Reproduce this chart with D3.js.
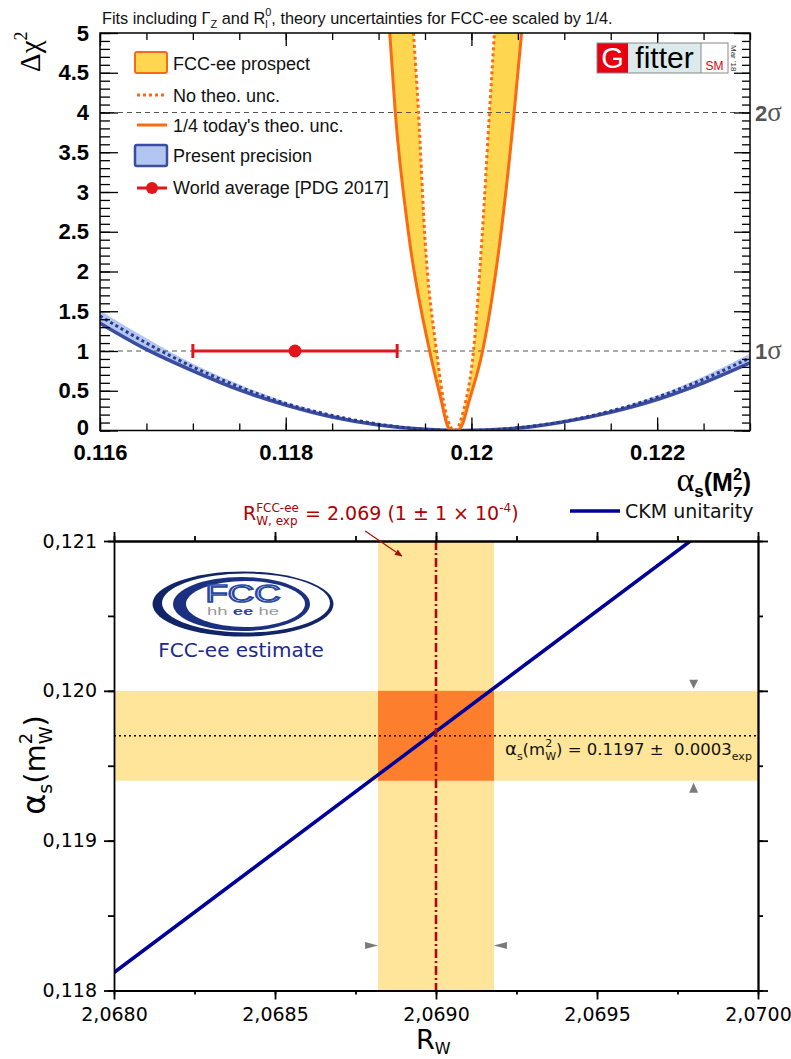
<!DOCTYPE html>
<html>
<head>
<meta charset="utf-8">
<script src="https://cdn.jsdelivr.net/npm/d3@7"></script>
<style>
  body { margin: 0; background: #fff; }
  svg { display: block; }
</style>
</head>
<body>
<svg id="fig" width="791" height="1059"></svg>
<script>
// ---------- Upper panel: Δχ² profiles in αs(MZ²) ----------
const presentAlpha  = [0.116, 0.1165, 0.117, 0.1175, 0.118, 0.1185, 0.119, 0.1195, 0.1199, 0.1205, 0.121, 0.1215, 0.122, 0.1225, 0.123];
const presentTheo   = [1.35, 1.02, 0.75, 0.51, 0.32, 0.17, 0.07, 0.015, 0, 0.03, 0.11, 0.23, 0.39, 0.60, 0.85];
const presentNoTheo = [1.44, 1.10, 0.80, 0.55, 0.34, 0.19, 0.08, 0.015, 0, 0.034, 0.115, 0.245, 0.42, 0.645, 0.915];
const presentUpper  = [1.51, 1.16, 0.84, 0.58, 0.36, 0.20, 0.08, 0.016, 0, 0.036, 0.12, 0.255, 0.44, 0.68, 0.965];

const fccTheoAlpha   = [0.11912, 0.11918, 0.11932, 0.11955, 0.11968, 0.11973, 0.11977, 0.11986, 0.11991, 0.11997, 0.12012, 0.12032, 0.12046, 0.12054];
const fccTheoChi2    = [5, 4, 2.5, 1, 0.35, 0.1, 0, 0, 0.1, 0.35, 1, 2.5, 4, 5];
const fccNoTheoAlpha = [0.119376, 0.11943, 0.119495, 0.119624, 0.11972, 0.119817, 0.119914, 0.120022, 0.120118, 0.120194, 0.120247];
const fccNoTheoChi2  = [5, 4, 2.5, 1, 0.25, 0, 0.25, 1, 2.5, 4, 5];

const worldAvg = 0.1181, worldErr = 0.0011, worldChi2 = 1;

const topXLabels = [0.116, 0.118, 0.12, 0.122];
const topYLabels = [0, 0.5, 1, 1.5, 2, 2.5, 3, 3.5, 4, 4.5, 5];
const sigmaLevels = [1, 4];
const sigmaNames  = ["1", "2"];

// ---------- Lower panel: αs(mW²) from R_W and CKM unitarity ----------
const rwTicks    = [2.0680, 2.0685, 2.0690, 2.0695, 2.0700];
const alphaTicks = [0.118, 0.119, 0.120, 0.121];
const rwExp = 2.069;
const rwBand = [2.06882, 2.06918];
const alphaW = 0.1197, alphaWErr = 0.0003;
const ckmR     = [2.0680, 2.06979];
const ckmAlpha = [0.11812, 0.12100];

const SANS  = "'Liberation Sans', Arial, Helvetica, sans-serif";
const SERIF = "'Liberation Serif', 'Times New Roman', serif";
const DV    = "'DejaVu Sans', Verdana, sans-serif";

const svg = d3.select("#fig");
svg.append("rect").attr("width", 791).attr("height", 1059).attr("fill", "#fff");
const defs = svg.append("defs");

// Lays out a run of text pieces (with sub/superscripts and stacked indices)
function rich(parent, parts, o) {
  const g = parent.append("g");
  let x = 0;
  const put = (p, xx) => g.append("text")
      .attr("x", xx).attr("y", p.dy || 0)
      .attr("font-family", p.family || o.family || SANS)
      .attr("font-size", p.size || o.size || 16)
      .attr("font-weight", p.weight || o.weight || "normal")
      .attr("fill", p.fill || o.fill || "#000")
      .text(p.t);
  for (const p of parts) {
    if (p.stack) {
      let w = 0;
      for (const s of p.stack) w = Math.max(w, put(s, x).node().getComputedTextLength());
      x += w;
    } else {
      x += put(p, x).node().getComputedTextLength();
    }
  }
  const shift = o.anchor === "end" ? -x : o.anchor === "middle" ? -x / 2 : 0;
  g.attr("transform", `translate(${o.x},${o.y}) rotate(${o.rotate || 0}) translate(${shift},0)`);
  return g;
}

// ================= UPPER PANEL =================
const up = svg.append("g");
const xT = d3.scaleLinear().domain([0.116, 0.123]).range([100, 750]);
const yT = d3.scaleLinear().domain([0, 5]).range([430.5, 33]);

defs.append("clipPath").attr("id", "clipTop").append("rect")
  .attr("x", xT(0.116)).attr("y", yT(5))
  .attr("width", xT(0.123) - xT(0.116)).attr("height", yT(0) - yT(5));

const plotT = up.append("g").attr("clip-path", "url(#clipTop)");

const fccTheo   = fccTheoAlpha.map((a, i) => [a, fccTheoChi2[i]]);
const fccNoTheo = fccNoTheoAlpha.map((a, i) => [a, fccNoTheoChi2[i]]);
const presTheo   = presentAlpha.map((a, i) => [a, presentTheo[i]]);
const presNoTheo = presentAlpha.map((a, i) => [a, presentNoTheo[i]]);

const YELLOW = "#FFD650", ORANGE = "#FA6A12";
const BLUEFILL = "#B2C6F1", BLUE = "#3A4DA1", BLUEDOT = "#2A3A8C";

// FCC-ee band: region between the wide (theory) and narrow (no theory) curves
const areaToTop = d3.area().x(d => xT(d[0])).y0(yT(5)).y1(d => yT(d[1])).curve(d3.curveMonotoneX);
plotT.append("path").datum(fccTheo).attr("d", areaToTop).attr("fill", YELLOW);
plotT.append("path").datum(fccNoTheo).attr("d", areaToTop).attr("fill", "#fff");

// present precision band
plotT.append("path").datum(presentAlpha.map((a, i) => [a, presentTheo[i], presentUpper[i]]))
  .attr("d", d3.area().x(d => xT(d[0])).y0(d => yT(d[1])).y1(d => yT(d[2])).curve(d3.curveMonotoneX))
  .attr("fill", BLUEFILL);

// 1σ / 2σ reference lines
plotT.selectAll("line.sig").data(sigmaLevels).join("line")
  .attr("x1", xT(0.116)).attr("x2", xT(0.123))
  .attr("y1", d => yT(d)).attr("y2", d => yT(d))
  .attr("stroke", "#555").attr("stroke-width", 1).attr("stroke-dasharray", "5,4");

const lineT = d3.line().x(d => xT(d[0])).y(d => yT(d[1])).curve(d3.curveMonotoneX);
plotT.append("path").datum(presTheo).attr("d", lineT).attr("fill", "none")
  .attr("stroke", BLUE).attr("stroke-width", 3.5);
plotT.append("path").datum(presNoTheo).attr("d", lineT).attr("fill", "none")
  .attr("stroke", BLUEDOT).attr("stroke-width", 3).attr("stroke-dasharray", "3,3");
plotT.append("path").datum(fccTheo).attr("d", lineT).attr("fill", "none")
  .attr("stroke", ORANGE).attr("stroke-width", 3);
plotT.append("path").datum(fccNoTheo).attr("d", lineT).attr("fill", "none")
  .attr("stroke", ORANGE).attr("stroke-width", 3).attr("stroke-dasharray", "3,3");

// world average with error bar
const RED = "#E3151C";
const wa = up.append("g").attr("stroke", RED).attr("stroke-width", 3);
wa.append("line").attr("x1", xT(worldAvg - worldErr)).attr("x2", xT(worldAvg + worldErr))
  .attr("y1", yT(worldChi2)).attr("y2", yT(worldChi2));
[worldAvg - worldErr, worldAvg + worldErr].forEach(v =>
  wa.append("line").attr("x1", xT(v)).attr("x2", xT(v))
    .attr("y1", yT(worldChi2) - 7).attr("y2", yT(worldChi2) + 7));
up.append("circle").attr("cx", xT(worldAvg)).attr("cy", yT(worldChi2)).attr("r", 6.5).attr("fill", RED);

// frame and ticks (ticks point inward)
const tickStyle = g => { g.select(".domain").remove(); g.selectAll("line").attr("stroke", "#000").attr("stroke-width", 1.3); };
const minorX = d3.range(0, 15).map(i => 0.116 + i * 0.0005);
const minorY = d3.range(0, 51).map(i => i * 0.1);
up.append("g").attr("transform", `translate(0,${yT(0)})`).call(d3.axisBottom(xT).tickValues(minorX).tickSize(-7).tickFormat("")).call(tickStyle);
up.append("g").attr("transform", `translate(0,${yT(0)})`).call(d3.axisBottom(xT).tickValues(topXLabels).tickSize(-13).tickFormat("")).call(tickStyle);
up.append("g").attr("transform", `translate(0,${yT(5)})`).call(d3.axisTop(xT).tickValues(minorX).tickSize(-7).tickFormat("")).call(tickStyle);
up.append("g").attr("transform", `translate(0,${yT(5)})`).call(d3.axisTop(xT).tickValues(topXLabels).tickSize(-13).tickFormat("")).call(tickStyle);
up.append("g").attr("transform", `translate(${xT(0.116)},0)`).call(d3.axisLeft(yT).tickValues(minorY).tickSize(-10).tickFormat("")).call(tickStyle);
up.append("g").attr("transform", `translate(${xT(0.116)},0)`).call(d3.axisLeft(yT).tickValues(topYLabels).tickSize(-18).tickFormat("")).call(tickStyle);
up.append("g").attr("transform", `translate(${xT(0.123)},0)`).call(d3.axisRight(yT).tickValues(minorY).tickSize(-8).tickFormat("")).call(tickStyle);
up.append("g").attr("transform", `translate(${xT(0.123)},0)`).call(d3.axisRight(yT).tickValues(topYLabels).tickSize(-16).tickFormat("")).call(tickStyle);
up.append("rect").attr("x", xT(0.116)).attr("y", yT(5))
  .attr("width", xT(0.123) - xT(0.116)).attr("height", yT(0) - yT(5))
  .attr("fill", "none").attr("stroke", "#000").attr("stroke-width", 1.5);

// tick labels
const labStyle = (g, size) => {
  g.select(".domain").remove();
  g.selectAll("text").attr("font-family", SANS).attr("font-size", size).attr("font-weight", "bold").attr("fill", "#000");
};
up.append("g").attr("transform", `translate(0,${yT(0)})`)
  .call(d3.axisBottom(xT).tickValues(topXLabels).tickSize(0).tickPadding(14).tickFormat(d3.format("~g")))
  .call(g => labStyle(g, 22));
up.append("g").attr("transform", `translate(${xT(0.116)},0)`)
  .call(d3.axisLeft(yT).tickValues(topYLabels).tickSize(0).tickPadding(11).tickFormat(d3.format("~g")))
  .call(g => labStyle(g, 22))
  .call(g => g.selectAll(".tick text").filter(d => d === 0).attr("dy", "0.18em"));

// σ labels on the right
sigmaLevels.forEach((s, i) => rich(up, [
  { t: sigmaNames[i], family: SANS, weight: "bold", size: 22 },
  { t: "σ", family: SERIF, size: 27 }
], { x: 755, y: yT(s) + 8, fill: "#555" }));

// title
rich(up, [
  { t: "Fits including\u00a0Γ", size: 16.3 },
  { t: "Z", size: 11, dy: 4 },
  { t: "\u00a0and R", size: 16.3 },
  { stack: [{ t: "0", size: 11, dy: -8 }, { t: "l", size: 11, dy: 4 }] },
  { t: ", theory uncertainties for FCC-ee scaled by 1/4.", size: 16.3 }
], { x: 102, y: 24, family: SANS, fill: "#111" });

// axis titles
rich(up, [
  { t: "Δχ", family: SERIF, size: 29 },
  { t: "2", family: SERIF, size: 18, dy: -13 }
], { x: 40, y: 72, rotate: -90 });
rich(up, [
  { t: "α", family: SERIF, size: 34 },
  { t: "s", size: 17, dy: 6, weight: "bold" },
  { t: "(M", size: 25, weight: "bold" },
  { stack: [{ t: "2", size: 16, dy: -11, weight: "bold" }, { t: "Z", size: 16, dy: 8, weight: "bold" }] },
  { t: ")", size: 25, weight: "bold" }
], { x: 751, y: 491, anchor: "end", family: SANS });

// legend
const lg = up.append("g").attr("font-family", SANS).attr("font-size", 18).attr("fill", "#111");
lg.append("rect").attr("x", 135).attr("y", 52).attr("width", 32).attr("height", 21).attr("rx", 2)
  .attr("fill", YELLOW).attr("stroke", ORANGE).attr("stroke-width", 2);
lg.append("text").attr("x", 173).attr("y", 70).text("FCC-ee prospect");
lg.append("line").attr("x1", 137).attr("x2", 167).attr("y1", 95).attr("y2", 95)
  .attr("stroke", ORANGE).attr("stroke-width", 3).attr("stroke-dasharray", "3,3");
lg.append("text").attr("x", 173).attr("y", 102).text("No theo. unc.");
lg.append("line").attr("x1", 137).attr("x2", 167).attr("y1", 125).attr("y2", 125)
  .attr("stroke", ORANGE).attr("stroke-width", 3);
lg.append("text").attr("x", 173).attr("y", 132).text("1/4 today's theo. unc.");
lg.append("rect").attr("x", 135).attr("y", 145).attr("width", 32).attr("height", 21).attr("rx", 2)
  .attr("fill", BLUEFILL).attr("stroke", BLUE).attr("stroke-width", 2.5);
lg.append("text").attr("x", 173).attr("y", 162).text("Present precision");
lg.append("line").attr("x1", 137).attr("x2", 167).attr("y1", 188).attr("y2", 188)
  .attr("stroke", RED).attr("stroke-width", 3);
lg.append("circle").attr("cx", 152).attr("cy", 188).attr("r", 6).attr("fill", RED);
lg.append("text").attr("x", 173).attr("y", 194).text("World average [PDG 2017]");

// Gfitter badge
const gf = up.append("g").attr("transform", "translate(597,43)");
gf.append("rect").attr("width", 31).attr("height", 30).attr("fill", "#E60012");
gf.append("rect").attr("x", 31).attr("width", 73).attr("height", 30).attr("fill", "#DCEAEB");
gf.append("rect").attr("x", 104).attr("width", 27).attr("height", 30).attr("fill", "#fff");
gf.append("rect").attr("width", 131).attr("height", 30).attr("fill", "none").attr("stroke", "#888").attr("stroke-width", 1);
gf.append("line").attr("x1", 104).attr("x2", 104).attr("y1", 0).attr("y2", 30).attr("stroke", "#888");
gf.append("text").attr("x", 15.5).attr("y", 25).attr("text-anchor", "middle")
  .attr("font-family", SANS).attr("font-size", 29).attr("fill", "#fff").text("G");
gf.append("text").attr("x", 67.5).attr("y", 25).attr("text-anchor", "middle")
  .attr("font-family", SANS).attr("font-size", 30).attr("fill", "#000").text("fitter");
gf.append("text").attr("x", 117.5).attr("y", 27).attr("text-anchor", "middle")
  .attr("font-family", SANS).attr("font-size", 12).attr("fill", "#E60012").text("SM");
gf.append("text").attr("transform", "translate(134,2) rotate(90)")
  .attr("font-family", SANS).attr("font-size", 8).attr("fill", "#333").text("Mar '18");

// ================= LOWER PANEL =================
const lo = svg.append("g");
lo.append("rect").attr("y", 497).attr("width", 791).attr("height", 562).attr("fill", "#fff");

const xB = d3.scaleLinear().domain([2.0680, 2.0700]).range([114, 758]);
const yB = d3.scaleLinear().domain([0.118, 0.121]).range([990.5, 541]);
defs.append("clipPath").attr("id", "clipBot").append("rect")
  .attr("x", xB(2.0680)).attr("y", yB(0.121))
  .attr("width", xB(2.0700) - xB(2.0680)).attr("height", yB(0.118) - yB(0.121));
const plotB = lo.append("g").attr("clip-path", "url(#clipBot)");

const PALE = "#FFE599", OVER = "#FD7F2E";
const aLo = alphaW - alphaWErr, aHi = alphaW + alphaWErr;
plotB.append("rect").attr("x", xB(rwBand[0])).attr("width", xB(rwBand[1]) - xB(rwBand[0]))
  .attr("y", yB(0.121)).attr("height", yB(0.118) - yB(0.121)).attr("fill", PALE);
plotB.append("rect").attr("x", xB(2.0680)).attr("width", xB(2.0700) - xB(2.0680))
  .attr("y", yB(aHi)).attr("height", yB(aLo) - yB(aHi)).attr("fill", PALE);
plotB.append("rect").attr("x", xB(rwBand[0])).attr("width", xB(rwBand[1]) - xB(rwBand[0]))
  .attr("y", yB(aHi)).attr("height", yB(aLo) - yB(aHi)).attr("fill", OVER);

plotB.append("line").attr("x1", xB(2.0680)).attr("x2", xB(2.0700))
  .attr("y1", yB(alphaW)).attr("y2", yB(alphaW))
  .attr("stroke", "#000").attr("stroke-width", 1.6).attr("stroke-dasharray", "2,3");

const NAVY = "#000099";
plotB.append("path").datum(ckmR.map((r, i) => [r, ckmAlpha[i]]))
  .attr("d", d3.line().x(d => xB(d[0])).y(d => yB(d[1])))
  .attr("fill", "none").attr("stroke", NAVY).attr("stroke-width", 3.5);

const DRED = "#AA0A0A";
plotB.append("line").attr("x1", xB(rwExp)).attr("x2", xB(rwExp))
  .attr("y1", yB(0.121)).attr("y2", yB(0.118))
  .attr("stroke", DRED).attr("stroke-width", 2.6).attr("stroke-dasharray", "9,3,2,3");

// band-edge markers
const GREY = "#7a7a7a";
const tri = pts => "M" + pts.map(p => p.join(",")).join("L") + "Z";
const mx = xB(2.0698), my = yB(0.1183);
lo.append("path").attr("fill", GREY).attr("d", tri([[mx - 4.5, yB(aHi) - 11], [mx + 4.5, yB(aHi) - 11], [mx, yB(aHi) - 2]]));
lo.append("path").attr("fill", GREY).attr("d", tri([[mx - 4.5, yB(aLo) + 12], [mx + 4.5, yB(aLo) + 12], [mx, yB(aLo) + 2]]));
lo.append("path").attr("fill", GREY).attr("d", tri([[xB(rwBand[0]) - 13, my - 3.5], [xB(rwBand[0]) - 13, my + 3.5], [xB(rwBand[0]), my]]));
lo.append("path").attr("fill", GREY).attr("d", tri([[xB(rwBand[1]) + 13, my - 3.5], [xB(rwBand[1]) + 13, my + 3.5], [xB(rwBand[1]), my]]));

// axes (outward ticks)
const comma = d3.formatLocale({ decimal: ",", thousands: ".", grouping: [3], currency: ["", ""] });
const axStyle = g => { g.selectAll("path,line").attr("stroke", "#000").attr("stroke-width", 1.8); };
const minorR = d3.range(0, 9).map(i => 2.0680 + i * 0.00025);
const minorA = d3.range(0, 7).map(i => 0.118 + i * 0.0005);
lo.append("g").attr("transform", `translate(${xB(2.0680)},0)`)
  .call(d3.axisLeft(yB).tickValues(minorA).tickSize(6).tickSizeOuter(0).tickFormat("")).call(axStyle);
lo.append("g").attr("transform", `translate(${xB(2.0680)},0)`)
  .call(d3.axisLeft(yB).tickValues(alphaTicks).tickSize(10).tickSizeOuter(0).tickPadding(7).tickFormat(comma.format(".3f")))
  .call(axStyle).call(g => { g.select(".domain").remove(); g.selectAll("text").attr("font-family", DV).attr("font-size", 19).attr("fill", "#000"); });
lo.append("g").attr("transform", `translate(${xB(2.0700)},0)`)
  .call(d3.axisRight(yB).tickValues(minorA).tickSize(5).tickSizeOuter(0).tickFormat("")).call(axStyle);
lo.append("g").attr("transform", `translate(${xB(2.0700)},0)`)
  .call(d3.axisRight(yB).tickValues(alphaTicks).tickSize(10).tickSizeOuter(0).tickFormat("")).call(axStyle);
lo.append("g").attr("transform", `translate(0,${yB(0.121)})`)
  .call(d3.axisTop(xB).tickValues(minorR).tickSize(5).tickSizeOuter(0).tickFormat("")).call(axStyle);
lo.append("g").attr("transform", `translate(0,${yB(0.121)})`)
  .call(d3.axisTop(xB).tickValues(rwTicks).tickSize(9).tickSizeOuter(0).tickFormat("")).call(axStyle);
lo.append("g").attr("transform", `translate(0,${yB(0.118)})`)
  .call(d3.axisBottom(xB).tickValues(minorR).tickSize(4).tickSizeOuter(0).tickFormat("")).call(axStyle);
lo.append("g").attr("transform", `translate(0,${yB(0.118)})`)
  .call(d3.axisBottom(xB).tickValues(rwTicks).tickSize(9).tickSizeOuter(0).tickFormat("")).call(axStyle);
lo.append("g").attr("transform", `translate(0,${yB(0.118)})`)
  .call(d3.axisBottom(xB).tickValues(rwTicks).tickSize(0).tickPadding(17).tickFormat(comma.format(".4f")))
  .call(g => { g.select(".domain").remove(); g.selectAll("text").attr("font-family", DV).attr("font-size", 19).attr("fill", "#000"); });

// annotation of the αs band
rich(lo, [
  { t: "α", size: 18 },
  { t: "s", size: 11, dy: 5 },
  { t: "(m", size: 16.5 },
  { stack: [{ t: "2", size: 11, dy: -8 }, { t: "W", size: 11, dy: 5 }] },
  { t: ")\u00a0= 0.1197 ±\u00a0\u00a00.0003", size: 16.5 },
  { t: "exp", size: 11, dy: 5 }
], { x: 505, y: 755, family: DV, fill: "#111" });

// R_W measurement label with arrow
rich(lo, [
  { t: "R", size: 19 },
  { stack: [{ t: "FCC-ee", size: 12, dy: -8 }, { t: "W, exp", size: 12, dy: 5 }] },
  { t: "\u00a0= 2.069 (1 ± 1 × 10", size: 19 },
  { t: "-4", size: 12, dy: -8 },
  { t: ")", size: 19 }
], { x: 243, y: 520, family: DV, fill: "#B00000" });
defs.append("marker").attr("id", "arr").attr("viewBox", "0 0 10 10").attr("refX", 9).attr("refY", 5)
  .attr("markerWidth", 7).attr("markerHeight", 7).attr("orient", "auto")
  .append("path").attr("d", "M0,1L10,5L0,9Z").attr("fill", DRED);
lo.append("line").attr("x1", xB(2.06878)).attr("y1", yB(0.121067))
  .attr("x2", xB(2.068894)).attr("y2", yB(0.12090))
  .attr("stroke", DRED).attr("stroke-width", 1.1).attr("marker-end", "url(#arr)");

// legend
lo.append("line").attr("x1", 570).attr("x2", 620).attr("y1", 511).attr("y2", 511)
  .attr("stroke", NAVY).attr("stroke-width", 3.5);
lo.append("text").attr("x", 625).attr("y", 518).attr("font-family", DV).attr("font-size", 19)
  .attr("fill", "#111").text("CKM unitarity");

// axis titles
rich(lo, [{ t: "R", size: 27 }, { t: "W", size: 16, dy: 5 }], { x: 416, y: 1049, family: DV });
rich(lo, [
  { t: "α", size: 32 },
  { t: "s", size: 19, dy: 7 },
  { t: "(m", size: 29 },
  { stack: [{ t: "2", size: 18, dy: -13 }, { t: "W", size: 18, dy: 7 }] },
  { t: ")", size: 29 }
], { x: 45, y: 765, rotate: -90, anchor: "middle", family: DV });

// FCC logo
const fcc = lo.append("g").attr("transform", "translate(243,604)");
fcc.append("ellipse").attr("rx", 90.5).attr("ry", 32.5).attr("fill", "#122468");
fcc.append("ellipse").attr("cx", 3).attr("cy", -1).attr("rx", 84).attr("ry", 29.5).attr("fill", "#fff");
fcc.append("ellipse").attr("cx", -1.5).attr("cy", 0).attr("rx", 68.5).attr("ry", 27).attr("fill", "#1b3080");
fcc.append("ellipse").attr("cx", 2.5).attr("cy", 0).attr("rx", 59.5).attr("ry", 23).attr("fill", "#fff");
fcc.append("text").attr("x", 0).attr("y", -2).attr("text-anchor", "middle")
  .attr("textLength", 75).attr("lengthAdjust", "spacingAndGlyphs")
  .attr("font-family", SANS).attr("font-size", 23).attr("fill", "#fff")
  .attr("stroke", "#2A48A2").attr("stroke-width", 1.6).text("FCC");
const hh = fcc.append("text").attr("x", 0).attr("y", 11).attr("text-anchor", "middle")
  .attr("textLength", 72).attr("lengthAdjust", "spacingAndGlyphs")
  .attr("font-family", SANS).attr("font-size", 10);
hh.append("tspan").attr("fill", "#999").text("hh ");
hh.append("tspan").attr("fill", "#2A48A2").attr("font-weight", "bold").text("ee");
hh.append("tspan").attr("fill", "#999").text(" he");
lo.append("text").attr("x", 241).attr("y", 657).attr("text-anchor", "middle")
  .attr("font-family", DV).attr("font-size", 20).attr("fill", "#1B2A8E").text("FCC-ee estimate");
</script>
</body>
</html>
